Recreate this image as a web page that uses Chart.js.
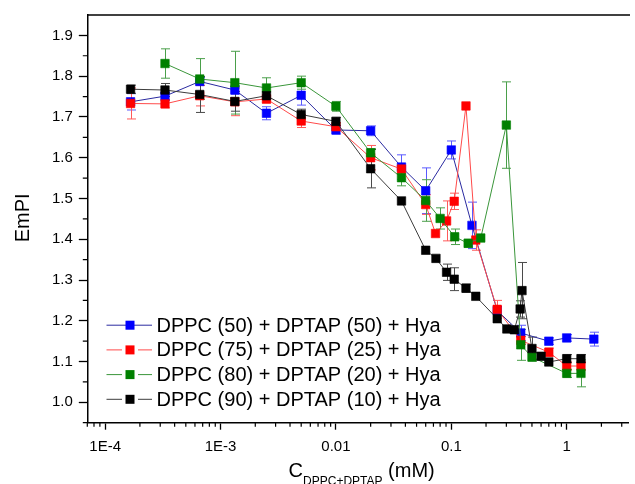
<!DOCTYPE html>
<html>
<head>
<meta charset="utf-8">
<script src="https://cdn.jsdelivr.net/npm/chart.js@4.4.1/dist/chart.umd.min.js"></script>
<style>
  html, body { margin: 0; padding: 0; background: #fff; }
  #wrap { width: 635px; height: 484px; }
</style>
</head>
<body>
<div id="wrap"><canvas id="chart" width="635" height="484"></canvas></div>
<script>
(function () {
  "use strict";

  var FONT = "'Liberation Sans', Arial, sans-serif";

  var seriesLabels = [
    "DPPC (50) + DPTAP (50) + Hya",
    "DPPC (75) + DPTAP (25) + Hya",
    "DPPC (80) + DPTAP (20) + Hya",
    "DPPC (90) + DPTAP (10) + Hya"
  ];

  var xTickValues = [1e-4, 1e-3, 0.01, 0.1, 1];
  var xTickLabels = ["1E-4", "1E-3", "0.01", "0.1", "1"];
  var yTickValues = [1.0, 1.1, 1.2, 1.3, 1.4, 1.5, 1.6, 1.7, 1.8, 1.9];

  var blueX = [1.66e-4, 3.3e-4, 6.6e-4, 1.33e-3, 2.5e-3, 5e-3, 0.01, 0.02, 0.037, 0.06, 0.1, 0.151, 0.25, 0.40, 0.70, 1.0, 1.72];
  var blueY = [1.737, 1.751, 1.787, 1.766, 1.709, 1.753, 1.668, 1.666, 1.577, 1.519, 1.619, 1.434, 1.225, 1.170, 1.150, 1.158, 1.155];
  var blueErr = [0.02, 0.01, 0.01, 0.01, 0.016, 0.024, 0.01, 0.012, 0.03, 0.056, 0.022, 0.057, 0.01, 0.019, 0.008, 0.008, 0.017];

  var redX = [1.66e-4, 3.3e-4, 6.6e-4, 1.33e-3, 2.5e-3, 5e-3, 0.01, 0.02, 0.037, 0.06, 0.073, 0.091, 0.106, 0.134, 0.163, 0.25, 0.40, 0.70, 1.0, 1.33];
  var redY = [1.733, 1.732, 1.752, 1.737, 1.744, 1.690, 1.676, 1.600, 1.572, 1.485, 1.414, 1.445, 1.493, 1.727, 1.398, 1.228, 1.152, 1.123, 1.089, 1.089];
  var redErr = [0.038, 0.01, 0.025, 0.034, 0.01, 0.016, 0.01, 0.03, 0.01, 0.024, 0.0, 0.049, 0.02, 0.0, 0.025, 0.022, 0.01, 0.01, 0.01, 0.01];

  var greenX = [3.3e-4, 6.6e-4, 1.33e-3, 2.5e-3, 5e-3, 0.01, 0.02, 0.037, 0.06, 0.080, 0.107, 0.14, 0.18, 0.30, 0.40, 0.50, 1.0, 1.33];
  var greenY = [1.831, 1.793, 1.784, 1.771, 1.784, 1.726, 1.612, 1.551, 1.495, 1.451, 1.406, 1.390, 1.403, 1.680, 1.141, 1.111, 1.071, 1.071];
  var greenErr = [0.036, 0.05, 0.077, 0.025, 0.016, 0.012, 0.01, 0.02, 0.051, 0.026, 0.019, 0.01, 0.0, 0.106, 0.038, 0.01, 0.01, 0.033];

  var blackX = [1.66e-4, 3.3e-4, 6.6e-4, 1.33e-3, 2.5e-3, 5e-3, 0.01, 0.02, 0.037, 0.06, 0.0736, 0.091, 0.106, 0.134, 0.163, 0.25, 0.303, 0.352, 0.395, 0.41, 0.50, 0.60, 0.70, 1.0, 1.33];
  var blackY = [1.768, 1.766, 1.755, 1.738, 1.752, 1.706, 1.689, 1.573, 1.494, 1.373, 1.353, 1.319, 1.302, 1.280, 1.260, 1.205, 1.180, 1.178, 1.229, 1.274, 1.132, 1.113, 1.099, 1.107, 1.107];
  var blackErr = [0.01, 0.016, 0.044, 0.024, 0.01, 0.013, 0.01, 0.047, 0.0, 0.0, 0.0, 0.02, 0.028, 0.01, 0.0, 0.0, 0.0, 0.0, 0.02, 0.069, 0.028, 0.0, 0.0, 0.01, 0.01];

  var markerColors = ["#0000ff", "#ff0000", "#008000", "#000000"];
  var lineColors = ["#2a2aa0", "#ff4a4a", "#3a963a", "#3c3c3c"];
  var errColors = ["#5a5aff", "#ff5a5a", "#4a9f4a", "#4a4a4a"];

  function toPoints(xs, ys) {
    return xs.map(function (x, i) {
      return { x: x, y: ys[i] };
    });
  }

  function makeDataset(idx, xs, ys, errs, order) {
    return {
      label: seriesLabels[idx],
      data: toPoints(xs, ys),
      errors: errs,
      order: order,
      borderColor: lineColors[idx],
      borderWidth: 1,
      backgroundColor: markerColors[idx],
      pointStyle: "rect",
      pointRadius: 6,
      pointBorderWidth: 1,
      pointBorderColor: markerColors[idx] + "99",
      pointBackgroundColor: markerColors[idx],
      tension: 0,
      fill: false
    };
  }

  var errorBars = {
    id: "errorBars",
    beforeDatasetsDraw: function (chart) {
      var ctx = chart.ctx;
      var xs = chart.scales.x;
      var ys = chart.scales.y;
      ctx.save();
      ctx.beginPath();
      ctx.rect(chart.chartArea.left, chart.chartArea.top,
        chart.chartArea.right - chart.chartArea.left,
        chart.chartArea.bottom - chart.chartArea.top);
      ctx.clip();
      ctx.lineWidth = 1;
      chart.data.datasets.forEach(function (ds, di) {
        ctx.strokeStyle = errColors[di];
        ds.data.forEach(function (p, i) {
          var e = ds.errors[i];
          if (!e) return;
          var px = Math.round(xs.getPixelForValue(p.x)) + 0.5;
          var top = ys.getPixelForValue(p.y + e);
          var bot = ys.getPixelForValue(p.y - e);
          ctx.beginPath();
          ctx.moveTo(px, top);
          ctx.lineTo(px, bot);
          ctx.moveTo(px - 4.5, top);
          ctx.lineTo(px + 4.5, top);
          ctx.moveTo(px - 4.5, bot);
          ctx.lineTo(px + 4.5, bot);
          ctx.stroke();
        });
      });
      ctx.restore();
    }
  };

  var frameAndExtras = {
    id: "frameAndExtras",
    afterDraw: function (chart) {
      var ctx = chart.ctx;
      var area = chart.chartArea;
      var xs = chart.scales.x;
      var ys = chart.scales.y;
      ctx.save();

      // top frame line
      ctx.strokeStyle = "#000";
      ctx.lineWidth = 1.5;
      ctx.beginPath();
      ctx.moveTo(area.left, area.top);
      ctx.lineTo(area.right + 2, area.top);
      ctx.stroke();

      // minor ticks
      ctx.lineWidth = 1.2;
      ctx.beginPath();
      for (var d = 1e-5; d < 10; d *= 10) {
        for (var k = 2; k <= 9; k++) {
          var v = k * d;
          if (v < xs.min || v > xs.max) continue;
          var px = xs.getPixelForValue(v);
          ctx.moveTo(px, area.bottom);
          ctx.lineTo(px, area.bottom + 4);
        }
      }
      for (var y = 0.95; y < 1.95; y += 0.1) {
        var py = ys.getPixelForValue(y);
        ctx.moveTo(area.left, py);
        ctx.lineTo(area.left - 4.5, py);
      }
      ctx.stroke();

      // y title
      ctx.fillStyle = "#000";
      ctx.font = "20px " + FONT;
      ctx.save();
      ctx.translate(28.5, (area.top + area.bottom) / 2 - 1);
      ctx.rotate(-Math.PI / 2);
      ctx.textAlign = "center";
      ctx.textBaseline = "alphabetic";
      ctx.fillText("EmPI", 0, 0);
      ctx.restore();

      // x title with subscript
      ctx.textAlign = "left";
      ctx.textBaseline = "alphabetic";
      ctx.font = "20px " + FONT;
      var wC = ctx.measureText("C").width;
      var wEnd = ctx.measureText(" (mM)").width;
      ctx.font = "12px " + FONT;
      var wSub = ctx.measureText("DPPC+DPTAP").width;
      var total = wC + wSub + wEnd;
      var sx = (area.left + area.right) / 2 + 4 - total / 2;
      var base = 476.5;
      ctx.font = "20px " + FONT;
      ctx.fillText("C", sx, base);
      ctx.font = "12px " + FONT;
      ctx.fillText("DPPC+DPTAP", sx + wC, base + 8);
      ctx.font = "20px " + FONT;
      ctx.fillText(" (mM)", sx + wC + wSub, base);

      // legend
      var rowBase = [331.7, 356.4, 381.1, 405.8];
      ctx.font = "20px " + FONT;
      for (var i = 0; i < seriesLabels.length; i++) {
        var cy = rowBase[i] - 7;
        ctx.strokeStyle = lineColors[i];
        ctx.lineWidth = 1;
        ctx.beginPath();
        if (i === 0) {
          ctx.moveTo(106.5, cy + 0.5);
          ctx.lineTo(152, cy + 0.5);
        } else {
          ctx.moveTo(106.5, cy + 0.5);
          ctx.lineTo(122, cy + 0.5);
          ctx.moveTo(138, cy + 0.5);
          ctx.lineTo(152, cy + 0.5);
        }
        ctx.stroke();
        ctx.fillStyle = markerColors[i];
        ctx.fillRect(125.5, cy - 4, 9, 9);
        ctx.fillStyle = "#000";
        ctx.fillText(seriesLabels[i], 156.5, rowBase[i]);
      }
      ctx.restore();
    }
  };

  var datasets = [
    makeDataset(0, blueX, blueY, blueErr, 3),
    makeDataset(1, redX, redY, redErr, 2),
    makeDataset(2, greenX, greenY, greenErr, 1),
    makeDataset(3, blackX, blackY, blackErr, 0)
  ];

  new Chart(document.getElementById("chart"), {
    type: "line",
    data: { datasets: datasets },
    options: {
      responsive: false,
      animation: false,
      layout: { padding: { top: 12.7, right: 0, bottom: 0, left: 0 } },
      plugins: {
        legend: { display: false },
        tooltip: { enabled: false }
      },
      scales: {
        x: {
          type: "logarithmic",
          min: 7e-5,
          max: 3.4,
          afterBuildTicks: function (scale) {
            scale.ticks = xTickValues.map(function (v) { return { value: v }; });
          },
          afterFit: function (scale) { scale.height = 61.3; },
          ticks: {
            autoSkip: false,
            maxRotation: 0,
            color: "#000",
            padding: 8,
            font: { family: FONT, size: 15 },
            callback: function (value, index) { return xTickLabels[index]; }
          },
          grid: { drawOnChartArea: false, drawTicks: true, tickLength: 7, tickColor: "#000", tickWidth: 1.3 },
          border: { color: "#000", width: 1.5 }
        },
        y: {
          type: "linear",
          min: 0.95,
          max: 1.95,
          afterBuildTicks: function (scale) {
            scale.ticks = yTickValues.map(function (v) { return { value: v }; });
          },
          afterFit: function (scale) { scale.width = 87.3; },
          ticks: {
            color: "#000",
            padding: 6,
            font: { family: FONT, size: 15 },
            callback: function (value) { return Number(value).toFixed(1); }
          },
          grid: { drawOnChartArea: false, drawTicks: true, tickLength: 8.5, tickColor: "#000", tickWidth: 1.3 },
          border: { color: "#000", width: 1.5 }
        }
      }
    },
    plugins: [errorBars, frameAndExtras]
  });
})();
</script>
</body>
</html>
